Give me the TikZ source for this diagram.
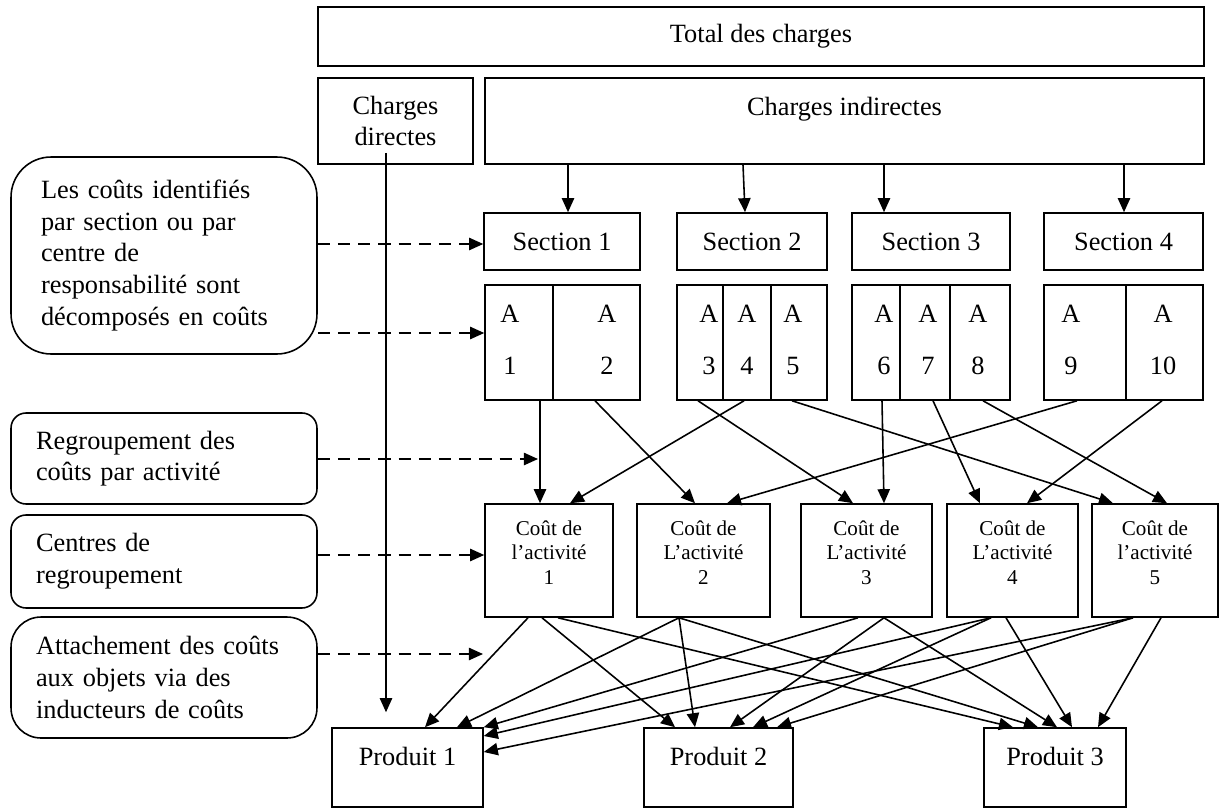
\documentclass[tikz,border=0pt]{standalone}
\usepackage{fontspec}
\setmainfont{Liberation Serif}
\usetikzlibrary{arrows.meta}

\begin{document}
\begin{tikzpicture}[
        x=0.02cm, y=-0.02cm,
        every node/.style={font=\fontsize{15}{18}\selectfont},
        block/.style={
          rectangle,
          draw,
          line width=0.9pt,
          inner sep=0pt,
          align=center
        },
        cost/.style={
          block,
          minimum height=2.26cm,
          font=\fontsize{12}{14}\selectfont
        },
        note/.style={
          rectangle,
          draw,
          line width=0.9pt,
          rounded corners=#1,
          align=left,
          minimum width=6.12cm,
          text width=5.12cm,
          inner xsep=0.5cm,
          inner ysep=0pt
        },
        celltext/.style={align=center, inner sep=0pt},
        arrow/.style={
          -{Triangle[length=8pt,width=7pt]},
          line width=0.9pt
        },
        hint/.style={
          arrow,
          dash pattern=on 7pt off 4.5pt
        }
      ]
      \useasboundingbox (0,0) rectangle (1220,808);

      % Charges
      \node[block, minimum width=17.72cm, minimum height=1.18cm] (total) at (761,36.5) {Total des charges};
      \node[block, minimum width=3.1cm, minimum height=1.72cm] (direct) at (395.5,121) {Charges\\directes};
      \node[block, minimum width=14.38cm, minimum height=1.72cm, text depth=0.59cm] (ind) at (844.5,121) {Charges indirectes};

      % Sections
      \node[block, minimum width=3.12cm, minimum height=1.14cm] (s1) at (562,241.5) {Section 1};
      \node[block, minimum width=3.0cm, minimum height=1.14cm] (s2) at (752,241.5) {Section 2};
      \node[block, minimum width=3.16cm, minimum height=1.14cm] (s3) at (931,241.5) {Section 3};
      \node[block, minimum width=3.18cm, minimum height=1.14cm] (s4) at (1123.5,241.5) {Section 4};

      % Activities
      \node[block, minimum width=1.36cm, minimum height=2.3cm] (a1) at (519,342.5) {};
      \node[block, minimum width=1.74cm, minimum height=2.3cm] (a2) at (596.5,342.5) {};
      \node[block, minimum width=0.92cm, minimum height=2.3cm] (a3) at (700,342.5) {};
      \node[block, minimum width=0.96cm, minimum height=2.3cm] (a4) at (747,342.5) {};
      \node[block, minimum width=1.12cm, minimum height=2.3cm] (a5) at (799,342.5) {};
      \node[block, minimum width=0.96cm, minimum height=2.3cm] (a6) at (876,342.5) {};
      \node[block, minimum width=1.0cm, minimum height=2.3cm] (a7) at (925,342.5) {};
      \node[block, minimum width=1.2cm, minimum height=2.3cm] (a8) at (980,342.5) {};
      \node[block, minimum width=1.64cm, minimum height=2.3cm] (a9) at (1085,342.5) {};
      \node[block, minimum width=1.54cm, minimum height=2.3cm] (a10) at (1164.5,342.5) {};

      \node[celltext] (t1) at (510,340) {A\\[11.5pt]1};
      \node[celltext] (t2) at (607,340) {A\\[11.5pt]2};
      \node[celltext] (t3) at (709,340) {A\\[11.5pt]3};
      \node[celltext] (t4) at (747,340) {A\\[11.5pt]4};
      \node[celltext] (t5) at (793,340) {A\\[11.5pt]5};
      \node[celltext] (t6) at (884,340) {A\\[11.5pt]6};
      \node[celltext] (t7) at (928,340) {A\\[11.5pt]7};
      \node[celltext] (t8) at (978,340) {A\\[11.5pt]8};
      \node[celltext] (t9) at (1071,340) {A\\[11.5pt]9};
      \node[celltext] (t10) at (1163,340) {A\\[11.5pt]10};

      % Cost pools
      \node[cost, minimum width=2.56cm] (c1) at (549,560.5) {Coût de\\l’activité\\1\\[-5pt]\mbox{}};
      \node[cost, minimum width=2.66cm] (c2) at (703.5,560.5) {Coût de\\L’activité\\2\\[-5pt]\mbox{}};
      \node[cost, minimum width=2.62cm] (c3) at (866.5,560.5) {Coût de\\L’activité\\3\\[-5pt]\mbox{}};
      \node[cost, minimum width=2.62cm] (c4) at (1012.5,560.5) {Coût de\\L’activité\\4\\[-5pt]\mbox{}};
      \node[cost, minimum width=2.52cm] (c5) at (1155,560.5) {Coût de\\l’activité\\5\\[-5pt]\mbox{}};

      % Products
      \node[block, minimum width=3.02cm, minimum height=1.58cm, text depth=0.45cm] (p1) at (407.5,767.5) {Produit 1};
      \node[block, minimum width=2.98cm, minimum height=1.58cm, text depth=0.45cm] (p2) at (718.5,767.5) {Produit 2};
      \node[block, minimum width=2.84cm, minimum height=1.58cm, text depth=0.45cm] (p3) at (1055,767.5) {Produit 3};

      % Notes
      \node[note=0.8cm, minimum height=3.94cm, text width=4.92cm, inner xsep=0.6cm] (b1) at (164,255.5) {Les coûts identifiés\\par section ou par\\centre de\\responsabilité sont\\décomposés en coûts};
      \node[note=0.3cm, minimum height=1.82cm] (b2) at (164,458.5) {Regroupement des\\coûts par activité};
      \node[note=0.3cm, minimum height=1.86cm] (b3) at (164,561.5) {Centres de\\regroupement};
      \node[note=0.6cm, minimum height=2.42cm] (b4) at (164,677.5) {Attachement des coûts\\aux objets via des\\inducteurs de coûts};

      % Direct charges
      \draw[arrow, shorten >=0.3cm] ([yshift=0.24cm]direct.south -| 386,0) -- (p1.north -| 386,0);

      % Indirect charges to sections
      \draw[arrow] (ind.south -| 568,0) -- (s1.north -| 568,0);
      \draw[arrow] (ind.south -| 743,0) -- (s2.north -| 745,0);
      \draw[arrow] (ind.south -| 884,0) -- (s3.north -| 884,0);
      \draw[arrow] (ind.south -| 1124,0) -- (s4.north -| 1124,0);

      % Activities to cost pools
      \draw[arrow] (a1.south -| 540,0) -- (c1.north -| 540,0);
      \draw[arrow] (a2.south -| 595,0) -- (c2.north -| 695,0);
      \draw[arrow] (a3.south -| 698,0) -- (c3.north -| 853,0);
      \draw[arrow] (a4.south -| 744,0) -- (c1.north -| 570,0);
      \draw[arrow] (a5.south -| 792,0) -- (c5.north -| 1113,0);
      \draw[arrow] (a6.south -| 882,0) -- (c3.north -| 884,0);
      \draw[arrow] (a7.south -| 933,0) -- (c4.north -| 980,0);
      \draw[arrow] (a8.south -| 983,0) -- (c5.north -| 1167,0);
      \draw[arrow] (a9.south -| 1077,0) -- (c2.north -| 727,0);
      \draw[arrow] (a10.south -| 1162,0) -- (c4.north -| 1027,0);

      % Cost pools to products
      \draw[arrow] (c1.south -| 528,0) -- (p1.north -| 425,0);
      \draw[arrow] (c1.south -| 542,0) -- (p2.north -| 675,0);
      \draw[arrow] (c1.south -| 558,0) -- (p3.north -| 1013,0);
      \draw[arrow] (c2.south -| 679,0) -- (p1.north -| 457,0);
      \draw[arrow] (c2.south -| 679,0) -- (p2.north -| 695,0);
      \draw[arrow] (c2.south -| 679,0) -- (p3.north -| 1038,0);
      \draw[arrow] (c3.south -| 858,0) -- (p1.north east);
      \draw[arrow] (c3.south -| 884,0) -- (p2.north -| 730,0);
      \draw[arrow] (c3.south -| 884,0) -- (p3.north -| 1057,0);
      \draw[arrow] (c4.south -| 991,0) -- (p1.east |- 0,736);
      \draw[arrow] (c4.south -| 991,0) -- (p2.north -| 753,0);
      \draw[arrow] (c4.south -| 1006,0) -- (p3.north -| 1072,0);
      \draw[arrow] (c5.south -| 1133,0) -- (p1.east |- 0,752);
      \draw[arrow] (c5.south -| 1133,0) -- (p2.north -| 777,0);
      \draw[arrow] (c5.south -| 1161,0) -- (p3.north -| 1098,0);

      % Notes pointers
      \coordinate (pool) at (538,459);
      \coordinate (attach) at (483,654);
      \draw[hint] (b1.east |- 0,244) -- (s1.west |- 0,244);
      \draw[hint] (b1.east |- 0,333) -- (a1.west |- 0,333);
      \draw[hint] (b2.east |- pool) -- (pool);
      \draw[hint] (b3.east |- 0,555) -- (c1.west |- 0,555);
      \draw[hint] (b4.east |- attach) -- (attach);

    \end{tikzpicture}
\end{document}
